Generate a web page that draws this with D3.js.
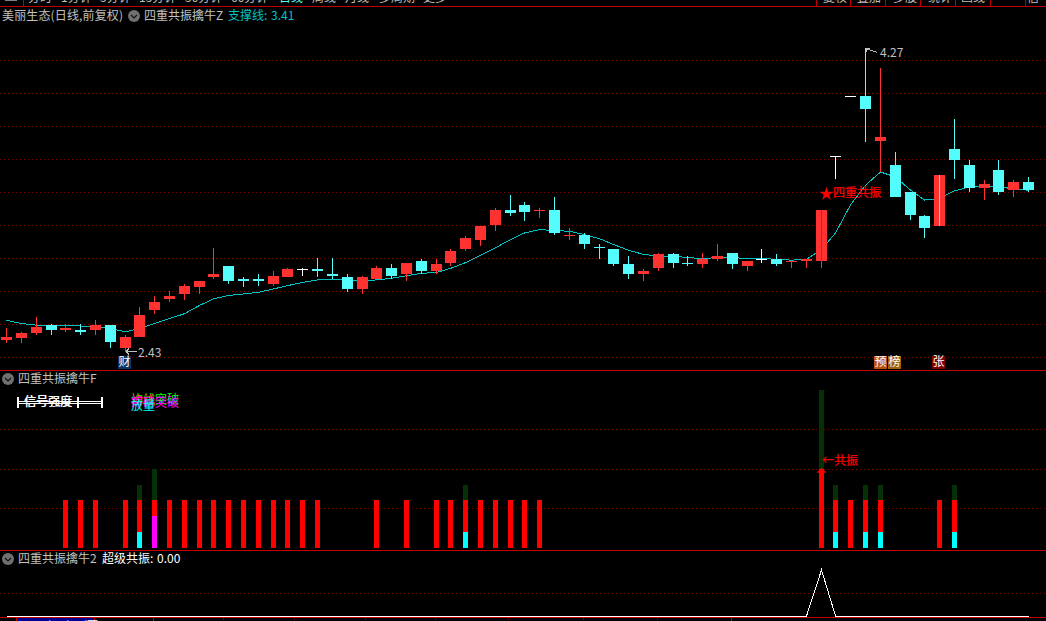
<!DOCTYPE html>
<html>
<head>
<meta charset="utf-8">
<script src="https://cdn.jsdelivr.net/npm/d3@7"></script>
<style>
  html, body { margin: 0; padding: 0; background: #000; overflow: hidden; }
  text { font-family: "Noto Sans CJK SC", sans-serif; font-size: 12px; }
</style>
</head>
<body>
<div id="chart"></div>
<script>
// daily prices
const opens = [2.50,2.51,2.54,2.59,2.56,2.56,2.56,2.59,2.45,2.52,2.68,2.75,2.78,2.82,2.88,2.95,2.87,2.87,2.84,2.88,
  2.93,2.93,2.90,2.88,2.81,2.87,2.94,2.90,2.98,2.92,2.97,3.05,3.11,3.20,3.29,3.32,3.285,3.29,3.13,3.14,
  3.065,3.05,2.96,2.90,2.94,3.02,2.97,2.96,2.99,3.03,2.95,2.99,2.99,2.975,2.98,2.98,3.62,3.98,3.98,3.71,
  3.56,3.40,3.25,3.19,3.66,3.56,3.42,3.53,3.41,3.46];
const closes = [2.52,2.54,2.58,2.56,2.57,2.55,2.59,2.49,2.52,2.65,2.73,2.77,2.83,2.86,2.90,2.86,2.86,2.86,2.89,2.93,
  2.93,2.92,2.89,2.81,2.88,2.94,2.89,2.97,2.92,2.96,3.04,3.12,3.19,3.29,3.27,3.28,3.29,3.15,3.14,3.08,
  3.06,2.96,2.90,2.92,3.02,2.97,2.96,2.99,3.01,2.96,2.98,2.99,2.96,2.98,2.99,3.29,3.62,3.98,3.90,3.73,
  3.37,3.26,3.18,3.50,3.59,3.42,3.45,3.40,3.46,3.41];
const highs = [2.57,2.55,2.64,2.60,2.60,2.60,2.62,2.59,2.53,2.70,2.77,2.80,2.84,2.86,3.06,2.95,2.88,2.90,2.92,2.94,
  2.94,3.00,3.00,2.90,2.89,2.95,2.96,2.97,2.99,2.99,3.05,3.13,3.19,3.30,3.38,3.34,3.30,3.37,3.18,3.15,
  3.08,3.05,3.01,2.93,3.03,3.03,3.01,3.03,3.08,3.03,2.98,3.05,3.02,2.98,2.99,3.29,3.62,3.98,4.27,4.15,
  3.64,3.40,3.26,3.50,3.84,3.59,3.47,3.59,3.47,3.49];
const lows = [2.48,2.48,2.53,2.53,2.55,2.53,2.53,2.45,2.43,2.52,2.66,2.73,2.74,2.78,2.87,2.84,2.82,2.83,2.83,2.88,
  2.89,2.88,2.87,2.79,2.78,2.87,2.87,2.86,2.90,2.90,2.95,3.04,3.07,3.16,3.25,3.22,3.24,3.14,3.11,3.05,
  2.99,2.95,2.87,2.86,2.92,2.94,2.95,2.94,2.98,2.93,2.92,2.97,2.95,2.94,2.94,2.94,3.48,3.98,3.70,3.52,
  3.37,3.23,3.12,3.19,3.48,3.40,3.35,3.38,3.37,3.40];
const support = [2.62,2.60,2.59,2.59,2.59,2.585,2.58,2.57,2.55,2.57,2.60,2.63,2.66,2.71,2.75,2.77,2.78,2.79,2.81,2.83,
  2.85,2.865,2.87,2.865,2.86,2.865,2.875,2.89,2.905,2.91,2.935,2.97,3.015,3.06,3.11,3.15,3.17,3.165,3.16,3.14,
  3.115,3.08,3.045,3.02,3.01,3.01,3.00,2.995,3.00,3.00,2.995,2.995,2.99,2.985,2.99,3.05,3.15,3.32,3.44,3.52,
  3.49,3.41,3.35,3.36,3.405,3.43,3.435,3.435,3.415,3.41];
const priceGrid = [4.2,4.0,3.8,3.6,3.4,3.2,3.0,2.8,2.6,2.4];
const lowDay = 8, highDay = 58, breakoutDay = 55, limitDay = 63;

// middle panel (signal strength)
const barDays = [4,5,6,8,9,10,11,12,13,14,15,16,17,18,19,20,21,25,27,29,30,31,32,33,34,35,36,55,56,57,58,59,63,64];
const barValues = [3,3,3,3,3,3,3,3,3,3,3,3,3,3,3,3,3,3,3,3,3,3,3,3,3,3,3,5,3,3,3,3,3,3];
const darkDays = [9,10,31,55,56,58,59,64];
const darkValues = [4,5,4,10,4,4,4,4];
const cyanDays = [9,31,56,58,59,64];
const magentaDays = [10];
const strengthGrid = [2.5,5,7.5];

// bottom panel
const superSignal = [0,0,0,0,0,0,0,0,0,0,0,0,0,0,0,0,0,0,0,0,0,0,0,0,0,0,0,0,0,0,0,0,0,0,0,0,0,0,0,0,
  0,0,0,0,0,0,0,0,0,0,0,0,0,0,0,1,0,0,0,0,0,0,0,0,0,0,0,0,0,0];

const tabLabels = ["分时","1分钟","5分钟","15分钟","30分钟","60分钟","日线","周线","月线","多周期","更多","复权","叠加","多股","统计","画线","信"];
const days = d3.range(opens.length);

const W = 1046, H = 621;
const RED_LINE = "#c00000", GRID = "#780000", UP = "#ff3232", DOWN = "#54fcfc", LABEL = "#c0c0c0";

const svg = d3.select("#chart").append("svg")
    .attr("width", W).attr("height", H)
    .style("display", "block")
    .style("background", "#000");

const x = d3.scalePoint().domain(days).range([6.1, 1028]);
const px = i => Math.round(x(i));
const yPrice = d3.scaleLinear().domain([2.4, 4.2]).range([356.5, 60]);
const yBar = d3.scaleLinear().domain([0, 10]).range([547.7, 389.7]);
const ySuper = d3.scaleLinear().domain([0, 1]).range([616, 570]);

// 1) Grid lines, one dot every four pixels
function grid(values, scale) {
    svg.append("g").attr("shape-rendering", "crispEdges").selectAll("line")
    .data(values)
    .enter().append("line")
        .attr("x1", 0).attr("x2", W)
        .attr("y1", d => Math.round(scale(d)) + 0.5)
        .attr("y2", d => Math.round(scale(d)) + 0.5)
        .attr("stroke", GRID)
        .attr("stroke-dasharray", "1,3");
}
grid(priceGrid, yPrice);
grid(strengthGrid, yBar);
grid([0.5], ySuper);

// 2) Support line, then candles on top
svg.append("path")
    .attr("d", d3.line().x(i => px(i) + 0.5).y(i => yPrice(support[i]))(days))
    .attr("fill", "none")
    .attr("stroke", "#00c4c4")
    .attr("shape-rendering", "crispEdges");

const colorOf = i => closes[i] > opens[i] ? UP : closes[i] < opens[i] ? DOWN : "#fff";
const candle = svg.append("g").attr("shape-rendering", "crispEdges")
    .selectAll("g").data(days).enter().append("g");

candle.append("rect")
    .attr("x", px)
    .attr("width", 1)
    .attr("y", i => Math.round(yPrice(highs[i])))
    .attr("height", i => Math.max(1, Math.round(yPrice(lows[i])) - Math.round(yPrice(highs[i]))))
    .attr("fill", colorOf);

candle.append("rect")
    .attr("x", i => px(i) - 5)
    .attr("width", 11)
    .attr("y", i => Math.round(yPrice(Math.max(opens[i], closes[i]))))
    .attr("height", i => Math.max(1, Math.round(yPrice(Math.min(opens[i], closes[i]))) - Math.round(yPrice(Math.max(opens[i], closes[i])))))
    .attr("fill", colorOf);

// stripes through the two limit-up bodies
[[breakoutDay, "#e01818"], [limitDay, "#ffd020"]].forEach(([i, color]) => {
    svg.append("rect")
        .attr("x", px(i)).attr("width", 1)
        .attr("y", Math.round(yPrice(closes[i])))
        .attr("height", Math.round(yPrice(opens[i])) - Math.round(yPrice(closes[i])))
        .attr("fill", color)
        .attr("shape-rendering", "crispEdges");
});

// 3) Strength bars
function bars(barX, values, color) {
    svg.append("g").attr("shape-rendering", "crispEdges")
    .selectAll("rect")
    .data(barX)
    .enter().append("rect")
        .attr("x", d => px(d) - 2)
        .attr("width", 5)
        .attr("y", (d, k) => Math.round(yBar(values[k])))
        .attr("height", (d, k) => 548 - Math.round(yBar(values[k])))
        .attr("fill", color);
}
bars(darkDays, darkValues, "#063006");
bars(barDays, barValues, "#ff0000");
bars(cyanDays, cyanDays.map(() => 1), "#00ffff");
bars(magentaDays, magentaDays.map(() => 2), "#ff00ff");

const arrowX = px(breakoutDay) + 0.5, arrowY = yBar(5) - 1;
svg.append("path")
    .attr("d", `M${arrowX},${arrowY}L${arrowX + 5},${arrowY + 5}L${arrowX - 5},${arrowY + 5}Z`)
    .attr("fill", "#ff0000");

// 4) Bottom signal line
svg.append("path")
    .attr("d", d3.line().x(i => px(i) + 0.5).y(i => ySuper(superSignal[i]))(days))
    .attr("fill", "none")
    .attr("stroke", "#fff")
    .attr("shape-rendering", "crispEdges");

// 5) Panel borders
[6, 370, 550, 617].forEach(y => {
    svg.append("rect").attr("x", 0).attr("y", y).attr("width", W).attr("height", 1).attr("fill", RED_LINE);
});

// 6) Clipped tab strip along the top
svg.append("clipPath").attr("id", "topClip").append("rect").attr("width", W).attr("height", 6);
const tabX = [28,61,100,139,185,231,279,312,345,379,423,823,857,893,928,961,1027];
const tabs = svg.append("g").attr("clip-path", "url(#topClip)");
tabs.selectAll("text")
    .data(tabLabels)
    .enter().append("text")
        .attr("x", (d, k) => tabX[k])
        .attr("y", 2)
        .attr("fill", d => d === "日线" ? "#54fcfc" : LABEL)
        .text(d => d);
tabs.append("rect").attr("x", 5).attr("y", 0).attr("width", 12).attr("height", 1).attr("fill", "#808080");
[23,816,850,885,920,955,990,1025].forEach(tx => {
    svg.append("rect").attr("x", tx).attr("y", 0).attr("width", 1).attr("height", 6).attr("fill", RED_LINE);
});

// 7) Clipped date axis along the bottom
svg.append("clipPath").attr("id", "botClip").append("rect").attr("y", 618).attr("width", W).attr("height", 3);
[153,223,294,365,435,508,583,657,731].forEach((tx, k) => {
    svg.append("rect").attr("x", tx).attr("y", 618)
        .attr("width", 1).attr("height", k === 0 || k === 8 ? 3 : 2)
        .attr("fill", k === 0 || k === 8 ? RED_LINE : GRID);
});
const dateBox = svg.append("g").attr("clip-path", "url(#botClip)");
dateBox.append("rect").attr("x", 17).attr("y", 618).attr("width", 77).attr("height", 3).attr("fill", "#000090");
dateBox.append("rect").attr("x", 16).attr("y", 618).attr("width", 1).attr("height", 3).attr("fill", RED_LINE);
dateBox.append("rect").attr("x", 94).attr("y", 618).attr("width", 1).attr("height", 3).attr("fill", RED_LINE);
dateBox.append("text").attr("x", 19).attr("y", 630).attr("fill", "#fff").text("2020/04/16/四");

// 8) Headers
function text(tx, ty, str, color) {
    return svg.append("text")
        .attr("x", tx).attr("y", ty + 1)
        .attr("dominant-baseline", "middle")
        .attr("fill", color)
        .text(str);
}
function chevron(cx, cy) {
    svg.append("circle").attr("cx", cx).attr("cy", cy).attr("r", 6).attr("fill", "#707070");
    svg.append("path")
        .attr("d", `M${cx - 3},${cy - 1}L${cx},${cy + 2}L${cx + 3},${cy - 1}`)
        .attr("fill", "none").attr("stroke", "#111").attr("stroke-width", 1.2);
}
text(2, 16, "美丽生态(日线,前复权)", LABEL).attr("textLength", 121);
chevron(134, 16);
text(144, 16, "四重共振擒牛Z", LABEL);
text(228, 16, "支撑线:", "#00c4c4");
text(271, 16, support[support.length - 1].toFixed(2), "#00c4c4");

chevron(8, 379);
text(18, 379, "四重共振擒牛F", LABEL);

chevron(8, 559);
text(18, 559, "四重共振擒牛2", LABEL);
text(102, 559, "超级共振:", "#fff");
text(157, 559, superSignal[superSignal.length - 1].toFixed(2), "#fff");

// 9) Overprinted signal labels in the middle panel
svg.append("path")
    .attr("d", "M18,397V408M78,397V408M102,397V408")
    .attr("fill", "none").attr("stroke", "#fff").attr("stroke-width", 2)
    .attr("shape-rendering", "crispEdges");
svg.append("path")
    .attr("d", "M17,401.5H103M17,403.5H103")
    .attr("fill", "none").attr("stroke", "#fff")
    .attr("shape-rendering", "crispEdges");
text(24, 402, "信号强度", "#fff");
text(24.6, 402, "信号强度", "#fff");
text(131, 400, "均线突破", "#00ff00");
text(131, 401, "均线", "#ff2020");
text(131, 403, "筹码突破", "#ff00ff");
text(131, 406, "放量", "#00ffff");

// 10) Price annotations
const hiX = px(highDay), hiY = yPrice(highs[highDay]);
svg.append("path")
    .attr("d", `M${hiX + 1},${hiY}L${hiX + 12},${hiY + 4}M${hiX + 1},${hiY}h4M${hiX + 1},${hiY}v4`)
    .attr("fill", "none").attr("stroke", LABEL).attr("shape-rendering", "crispEdges");
text(880, hiY + 4, "4.27", LABEL);

const loX = px(lowDay), loY = yPrice(lows[lowDay]);
svg.append("path")
    .attr("d", `M${loX + 1},${loY}H${loX + 12}M${loX + 1},${loY}l3,-3M${loX + 1},${loY}l3,3`)
    .attr("fill", "none").attr("stroke", LABEL).attr("shape-rendering", "crispEdges");
text(138, loY + 1, "2.43", LABEL);

svg.append("path")
    .attr("d", d3.symbol(d3.symbolStar, 60)())
    .attr("transform", "translate(826.5,194)")
    .attr("fill", "#ff0000");
text(833, 193, "四重共振", "#ff0000").attr("stroke", "#ff0000").attr("stroke-width", 0.25);
text(822, 461, "←共振", "#ff0000").attr("stroke", "#ff0000").attr("stroke-width", 0.25);

// 11) Event tags above the middle panel
[["财", 118, "#0a3468"], ["预", 874, "#b85010"], ["榜", 888, "#a06008"], ["张", 932, "#800000"]].forEach(([ch, tx, bg]) => {
    svg.append("rect").attr("x", tx).attr("y", 356).attr("width", 13).attr("height", 13).attr("fill", bg);
    text(tx + 0.5, 361.5, ch, "#fff");
});
</script>
</body>
</html>
